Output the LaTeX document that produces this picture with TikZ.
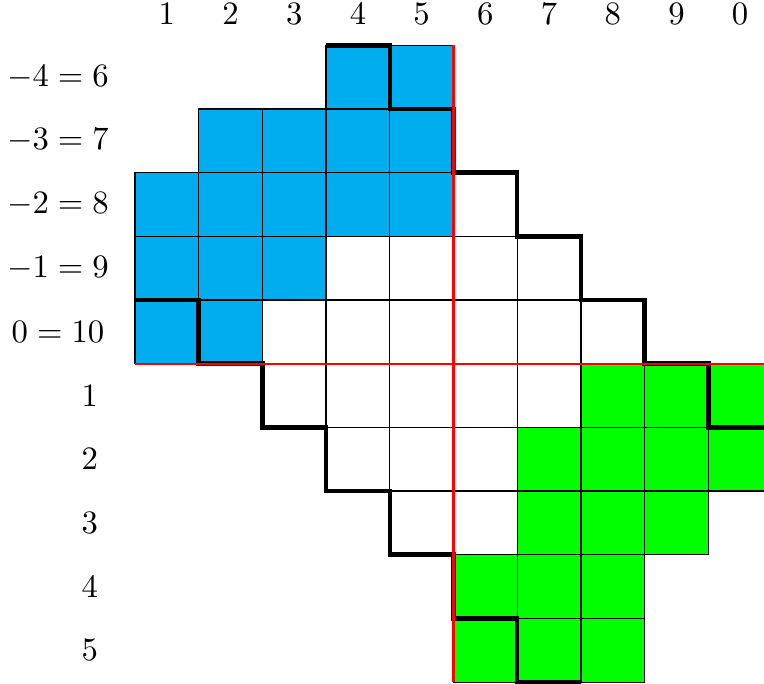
\documentclass[tikz,border=0pt]{standalone}
\usepackage{amsmath,amssymb}
\usepackage{xcolor}
\usepackage{tikz}
\usetikzlibrary{positioning}

\definecolor{cellblue}{RGB}{0,173,239}
\definecolor{cellgreen}{RGB}{0,255,0}

\begin{document}
\begin{tikzpicture}[x=0.685cm,y=0.685cm,
  bluebox/.style={fill=cellblue,draw=black,line width=0.4pt},
  greenbox/.style={fill=cellgreen,draw=black,line width=0.4pt},
  whitebox/.style={fill=white,draw=black,line width=0.4pt},
  axisline/.style={red,line width=0.7pt},
  pathline/.style={black,line width=1.4pt}]
  \useasboundingbox (-2.12,-5.02) rectangle (9.875,5.71);
  \clip (-2.12,-5.02) rectangle (9.875,5.71);
  % blue cells: row / first / last
  \foreach \y/\a/\b in {4/3/4,3/1/4,2/0/4,1/0/2,0/0/1}
    \foreach \x in {\a,...,\b}
      \draw[bluebox] (\x,\y) rectangle ++(1,1);
  % white cells
  \foreach \y/\a/\b in {2/5/5,1/3/6,0/2/7,-1/2/6,-2/3/5,-3/4/5}
    \foreach \x in {\a,...,\b}
      \draw[whitebox] (\x,\y) rectangle ++(1,1);
  % green cells
  \foreach \y/\a/\b in {-1/7/9,-2/6/9,-3/6/8,-4/5/7,-5/5/7}
    \foreach \x in {\a,...,\b}
      \draw[greenbox] (\x,\y) rectangle ++(1,1);
  % the two staircases
  \draw[pathline] (3,5) -- (4,5) -- (4,4) -- (5,4) -- (5,3) -- (6,3) -- (6,2) -- (7,2)
    -- (7,1) -- (8,1) -- (8,0) -- (9,0) -- (9,-1) -- (10,-1);
  \draw[pathline] (0,1) -- (1,1) -- (1,0) -- (2,0) -- (2,-1) -- (3,-1) -- (3,-2) -- (4,-2)
    -- (4,-3) -- (5,-3) -- (5,-4) -- (6,-4) -- (6,-5) -- (7,-5);
  % axes
  \draw[axisline] (0,0) -- (10,0);
  \draw[axisline] (5,5) -- (5,-5);
  % labels
  \foreach \c [count=\i] in {1,2,3,4,5,6,7,8,9,0}
    \node (col\i) at (\i-0.5,5.49) {$\c$};
  \foreach \k/\m/\y [count=\i] in {-4/6/4.5,-3/7/3.5,-2/8/2.5,-1/9/1.5,0/10/0.5}
    \node (rowup\i) at (-1.21,\y) {$\k=\m$};
  \foreach \k in {1,...,5}
    \node (rowdown\k) at (-0.71,0.5-\k) {$\k$};
\end{tikzpicture}
\end{document}
